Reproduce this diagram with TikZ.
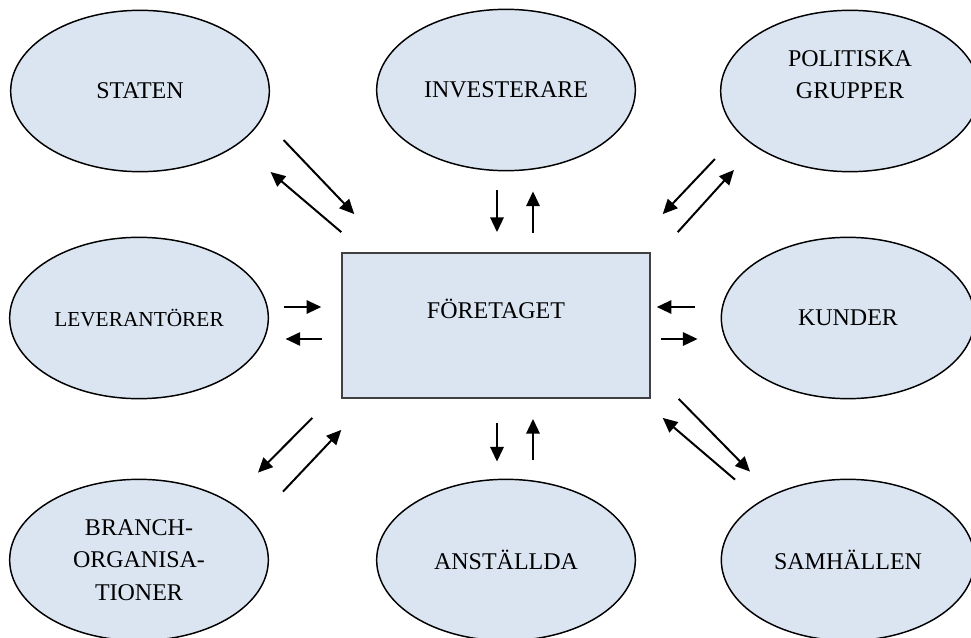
\documentclass[tikz,border=0pt]{standalone}
\usepackage{fontspec}
\setmainfont{Liberation Serif}
\usetikzlibrary{shapes.geometric, arrows.meta, positioning, calc}
\definecolor{partyblue}{HTML}{DBE5F1}

\begin{document}
\begin{tikzpicture}[
    x=0.75pt, y=-0.75pt,
    party/.style={ellipse, draw=black, line width=1.1pt, fill=partyblue, minimum width=194pt, minimum height=121pt, inner sep=0pt, align=center, font=\fontsize{18}{24.5}\selectfont},
    firm/.style={rectangle, draw=black!75, line width=1.1pt, fill=partyblue, minimum width=231pt, minimum height=109pt, inner sep=0pt, align=center, font=\fontsize{18}{24.5}\selectfont},
    flow/.style={-{Triangle[length=11pt, width=10pt]}, line width=1.5pt, black}
]
    \useasboundingbox (0,0) rectangle (971,638);

    % ========== Company ==========
    \node (firm) [firm] at (496,325.5) {FÖRETAGET\\\mbox{}};

    % ========== Stakeholders ==========
    \node (staten) [party] at (140,91) {STATEN};
    \node (invest) [party] at (506,90) {INVESTERARE};
    \node (polit) [party] at (850,91) {POLITISKA\\GRUPPER\\\mbox{}};
    \node (lever) [party, font=\fontsize{16}{20}\selectfont] at (139,318) {LEVERANTÖRER};
    \node (kunder) [party, minimum width=190pt] at (848,318) {KUNDER};
    \node (branch) [party] at (139,560) {BRANCH-\\ORGANISA-\\TIONER};
    \node (anst) [party] at (506,560) {ANSTÄLLDA};
    \node (samh) [party, minimum width=190pt] at (848,560) {SAMHÄLLEN};

    % ========== Upper arrows ==========
    \draw [flow] ([shift={(13.5,49)}]staten.east) -- ([shift={(13,-38)}]firm.north west);
    \draw [flow] ([shift={(0,-20)}]firm.north west) -- ([shift={(0.5,81)}]staten.east);

    \draw [flow] ([shift={(-9,19)}]invest.south) -- ([shift={(1,-20)}]firm.north);
    \draw [flow] ([shift={(37,-19)}]firm.north) -- ([shift={(27,20)}]invest.south);

    \draw [flow] ([shift={(-5,68)}]polit.west) -- ([shift={(12,-38)}]firm.north east);
    \draw [flow] ([shift={(27,-20)}]firm.north east) -- ([shift={(14,79)}]polit.west);

    % ========== Side arrows ==========
    \draw [flow] ([shift={(14.5,-11)}]lever.east) -- ([shift={(-20,-18.5)}]firm.west);
    \draw [flow] ([shift={(-19,13.5)}]firm.west) -- ([shift={(16.5,21)}]lever.east);

    \draw [flow] ([shift={(-26,-11)}]kunder.west) -- ([shift={(6,-18.5)}]firm.east);
    \draw [flow] ([shift={(10,13.5)}]firm.east) -- ([shift={(-23,21)}]kunder.west);

    % ========== Lower arrows ==========
    \draw [flow] ([shift={(-29,19)}]firm.south west) -- ([shift={(119,-6)}]branch.north);
    \draw [flow] ([shift={(144,13)}]branch.north) -- ([shift={(0,31)}]firm.south west);

    \draw [flow] ([shift={(1,24)}]firm.south) -- ([shift={(-9,-17)}]anst.north);
    \draw [flow] ([shift={(27,-19)}]anst.north) -- ([shift={(37,20)}]firm.south);

    \draw [flow] ([shift={(28,0)}]firm.south east) -- ([shift={(-98,-7)}]samh.north);
    \draw [flow] ([shift={(-113,1)}]samh.north) -- ([shift={(12,19)}]firm.south east);
\end{tikzpicture}
\end{document}
